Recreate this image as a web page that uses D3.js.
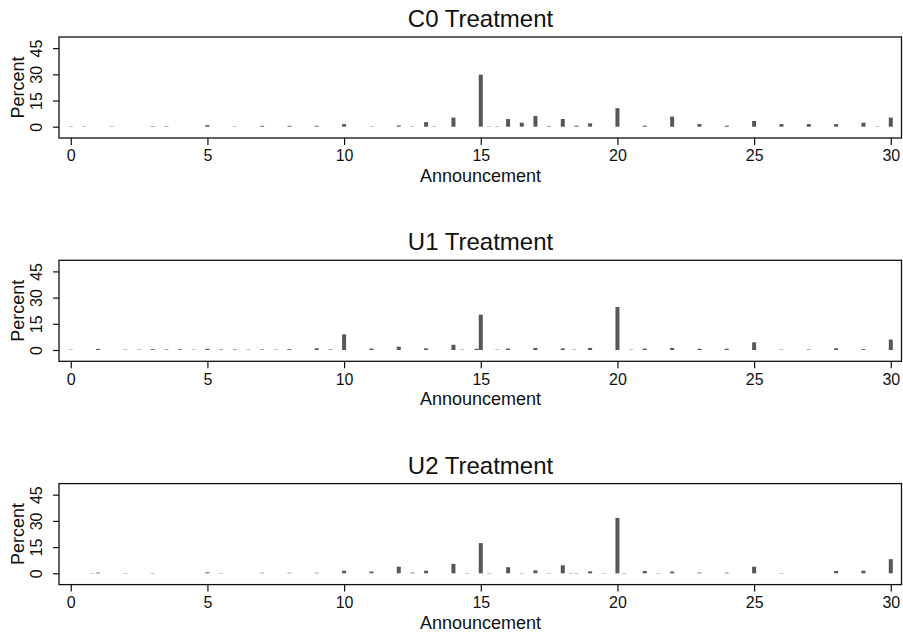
<!DOCTYPE html>
<html>
<head>
<meta charset="utf-8">
<script src="https://cdn.jsdelivr.net/npm/d3@7"></script>
<style>
  html, body { margin: 0; padding: 0; background: #fff; }
  svg text { font-family: "Liberation Sans", Arial, Helvetica, sans-serif; fill: #111; }
</style>
</head>
<body>
<div id="mydraw"></div>
<script>

///////////////////////////////////////////////
// data

var panelTitles = ["C0 Treatment", "U1 Treatment", "U2 Treatment"];

var xTicks = [0, 5, 10, 15, 20, 25, 30];
var yTicks = [0, 15, 30, 45];

var c0Announce = [0, 0.5, 1.5, 3, 3.5, 5, 6, 7, 8, 9, 10, 11, 12, 12.5, 13, 13.3, 14, 15, 15.3, 15.6,
                  16, 16.5, 17, 17.5, 18, 18.5, 19, 20, 21, 22, 23, 24, 25, 26, 27, 28, 29, 29.5, 30];
var c0Percent  = [0.2, 0.2, 0.2, 0.3, 0.3, 0.9, 0.2, 0.5, 0.5, 0.5, 1.5, 0.2, 0.7, 0.2, 2.6, 0.2, 5.2, 29.8, 0.2, 0.2,
                  4.4, 2.3, 6.1, 0.3, 4.4, 0.6, 1.9, 10.6, 0.6, 5.8, 1.5, 0.6, 3.3, 1.5, 1.5, 1.5, 2.3, 0.2, 5.2];

var u1Announce = [0, 1, 2, 2.5, 3, 3.5, 4, 4.5, 5, 5.5, 6, 6.5, 7, 7.5, 8, 9, 9.5, 10, 11, 12, 13, 14, 14.3, 14.85,
                  15, 15.6, 16, 17, 18, 18.4, 19, 20, 20.5, 21, 22, 23, 24, 25, 26, 27, 28, 29, 30];
var u1Percent  = [0.2, 0.6, 0.2, 0.2, 0.5, 0.3, 0.4, 0.2, 0.7, 0.3, 0.3, 0.2, 0.3, 0.2, 0.5, 1.0, 0.3, 9.0, 0.8, 1.9, 0.9, 3.0, 0.2, 0.7,
                  20.2, 0.2, 0.8, 1.2, 0.9, 0.2, 1.2, 24.6, 0.2, 0.8, 1.2, 0.7, 0.7, 4.4, 0.2, 0.3, 1.0, 0.5, 6.0];

var u2Announce = [0.8, 1, 2, 3, 5, 5.5, 7, 8, 9, 10, 11, 12, 12.5, 13, 14, 14.5, 15, 15.3, 16, 16.5, 17, 17.5,
                  18, 18.3, 18.5, 19, 19.5, 20, 20.25, 21, 21.5, 22, 23, 24, 25, 26, 28, 29, 30];
var u2Percent  = [0.2, 0.4, 0.2, 0.2, 0.6, 0.2, 0.3, 0.3, 0.3, 1.5, 1.0, 3.8, 0.4, 1.5, 5.4, 0.2, 17.3, 0.2, 3.5, 0.2, 1.7, 0.2,
                  4.6, 0.2, 0.2, 1.1, 0.2, 31.7, 0.2, 1.3, 0.2, 1.0, 0.4, 0.4, 3.8, 0.2, 1.3, 1.5, 8.1];

var panelX = [c0Announce, u1Announce, u2Announce];
var panelY = [c0Percent, u1Percent, u2Percent];


///////////////////////////////////////////////
// layout

var width = 903, height = 634;

var box = {
    left:   59,
    right:  902,
    top:    37,
    height: 101
};
var panelStep = 223.3;
var barWidth = 4;
var barColor = "#575757";

var svg = d3.select("div#mydraw").append("svg")
    .attr("width", width)
    .attr("height", height);

// same scales for every panel
var x = d3.scaleLinear()
    .domain([-0.43, 30.41])
    .range([box.left, box.right]);

var y = d3.scaleLinear()
    .domain([-6.47, 51.35])
    .range([box.height, 0]);


///////////////////////////////////////////////
// draw the three panels

panelTitles.forEach(function(title, p) {

    var top = box.top + p * panelStep;

    var g = svg.append("g")
        .attr("transform", "translate(0," + top + ")");

    // ---------------
    // title
    g.append("text")
        .attr("x", (box.left + box.right) / 2)
        .attr("y", -10)
        .attr("text-anchor", "middle")
        .style("font-size", "24px")
        .text(title);

    // ---------------
    // bars
    var rows = panelX[p].map(function(d, i) {
        return { a: d, v: panelY[p][i] };
    });

    g.selectAll("rect.bar")
        .data(rows)
        .enter()
        .append("rect")
        .attr("class", "bar")
        .attr("x", function(d) { return x(d.a) - barWidth / 2; })
        .attr("y", function(d) { return y(d.v); })
        .attr("width", barWidth)
        .attr("height", function(d) { return y(0) - y(d.v); })
        .attr("fill", barColor);

    // ---------------
    // frame
    g.append("rect")
        .attr("x", box.left)
        .attr("y", 0)
        .attr("width", box.right - box.left - 0.5)
        .attr("height", box.height)
        .attr("fill", "none")
        .attr("stroke", "#111")
        .attr("stroke-width", 1.3);

    // ---------------
    // y axis
    var yAxis = g.append("g")
        .attr("transform", "translate(" + box.left + ",0)")
        .call(d3.axisLeft(y).tickValues(yTicks).tickSize(6).tickPadding(4).tickFormat(d3.format("d")));

    yAxis.select(".domain").remove();
    yAxis.selectAll("line").attr("stroke", "#111").attr("stroke-width", 1.2);
    yAxis.selectAll("text")
        .attr("x", null)
        .attr("dy", null)
        .attr("text-anchor", "middle")
        .attr("transform", "translate(-17.5,0) rotate(-90)")
        .attr("y", 0)
        .style("font-size", "16px")
        .style("font-family", "'Liberation Sans', Arial, sans-serif");

    g.append("text")
        .attr("transform", "translate(24," + (box.height / 2) + ") rotate(-90)")
        .attr("text-anchor", "middle")
        .style("font-size", "18px")
        .text("Percent");

    // ---------------
    // x axis
    var xAxis = g.append("g")
        .attr("transform", "translate(0," + box.height + ")")
        .call(d3.axisBottom(x).tickValues(xTicks).tickSize(7).tickPadding(5).tickFormat(d3.format("d")));

    xAxis.select(".domain").remove();
    xAxis.selectAll("line").attr("stroke", "#111").attr("stroke-width", 1.2);
    xAxis.selectAll("text")
        .style("font-size", "16px")
        .style("font-family", "'Liberation Sans', Arial, sans-serif");

    g.append("text")
        .attr("x", (box.left + box.right) / 2)
        .attr("y", box.height + 44)
        .attr("text-anchor", "middle")
        .style("font-size", "18px")
        .text("Announcement");

});

</script>
</body>
</html>
